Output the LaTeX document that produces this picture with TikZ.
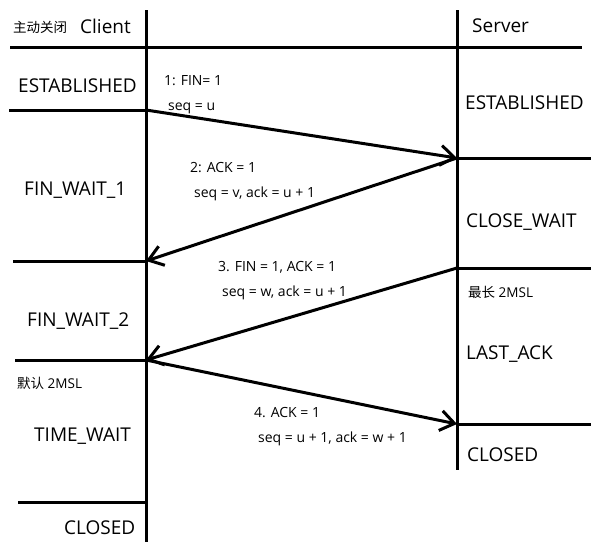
\documentclass[tikz,border=0pt]{standalone}
\usepackage{fontspec}
\setmainfont{Open Sans}
\newfontfamily\cjk{Noto Sans CJK SC}
\usetikzlibrary{arrows.meta}
\begin{document}
\begin{tikzpicture}[x=1pt,y=-1pt,
  rule/.style={line width=3pt},
  msg/.style={line width=3pt, -{Straight Barb[length=14pt,width=20pt]}},
  big/.style={font=\fontsize{19}{22}\selectfont, anchor=base west, inner sep=0pt},
  small/.style={font=\fontsize{14}{16}\selectfont, anchor=base west, inner sep=0pt},
  cn/.style={font=\fontsize{13.5}{16}\selectfont, anchor=base west, inner sep=0pt}]
\useasboundingbox (0,0) rectangle (591,554);
% coordinates
\coordinate (cTop) at (146,10); \coordinate (cBot) at (146,542);
\coordinate (sTop) at (457,10); \coordinate (sBot) at (457,470);
\coordinate (hL) at (10,47); \coordinate (hR) at (582,47);
\coordinate (c1) at (146,110); \coordinate (c1L) at (9,110);
\coordinate (s1) at (457,158); \coordinate (s1R) at (591,158);
\coordinate (c2) at (146,261); \coordinate (c2L) at (13,261);
\coordinate (s2) at (457,268); \coordinate (s2R) at (591,268);
\coordinate (c3) at (146,360); \coordinate (c3L) at (15,360);
\coordinate (s3) at (457,424); \coordinate (s3R) at (591,424);
\coordinate (c4) at (146,502); \coordinate (c4L) at (18,502);
% lines
\draw[rule] (cTop) -- (cBot);
\draw[rule] (sTop) -- (sBot);
\draw[rule] (hL) -- (hR);
\draw[rule] (c1L) -- (c1);
\draw[rule] (c2L) -- (c2);
\draw[rule] (c3L) -- (c3);
\draw[rule] (c4L) -- (c4);
\draw[rule] (s1) -- (s1R);
\draw[rule] (s2) -- (s2R);
\draw[rule] (s3) -- (s3R);
% messages
\draw[msg] (c1) -- (s1);
\draw[msg] (s1) -- (c2);
\draw[msg] (s2) -- (c3);
\draw[msg] (c3) -- (s3);
% texts
\node[cn] (t0) at (13,32) {\cjk 主动关闭};
\node[big] (tc) at (80,33) {Client};
\node[big] (ts) at (472,32) {Server};
\node[big] (e1) at (18,92) {ESTABLISHED};
\node[small] (m1a) at (164,85) {1: FIN= 1};
\node[small] (m1b) at (168,110) {seq = u};
\node[big] (e2) at (465,109) {ESTABLISHED};
\node[small] (m2a) at (190,172) {2: ACK = 1};
\node[small] (m2b) at (194,197) {seq = v, ack = u + 1};
\node[big] (f1) at (24,195) {FIN\_WAIT\_1};
\node[big] (cw) at (466,227) {CLOSE\_WAIT};
\node[small] (m3a) at (218,271) {3. FIN = 1, ACK = 1};
\node[small] (m3b) at (222,296) {seq = w, ack = u + 1};
\node[cn] (zc) at (468,297) {{\cjk 最长} 2MSL};
\node[big] (f2) at (27,326) {FIN\_WAIT\_2};
\node[big] (la) at (466,359) {LAST\_ACK};
\node[cn] (mr) at (17,388) {{\cjk 默认} 2MSL};
\node[small] (m4a) at (254,417) {4. ACK = 1};
\node[small] (m4b) at (258,442) {seq = u + 1, ack = w + 1};
\node[big] (tw) at (34,441) {TIME\_WAIT};
\node[big] (cs) at (467,461) {CLOSED};
\node[big] (cc) at (64,534) {CLOSED};
\end{tikzpicture}
\end{document}
